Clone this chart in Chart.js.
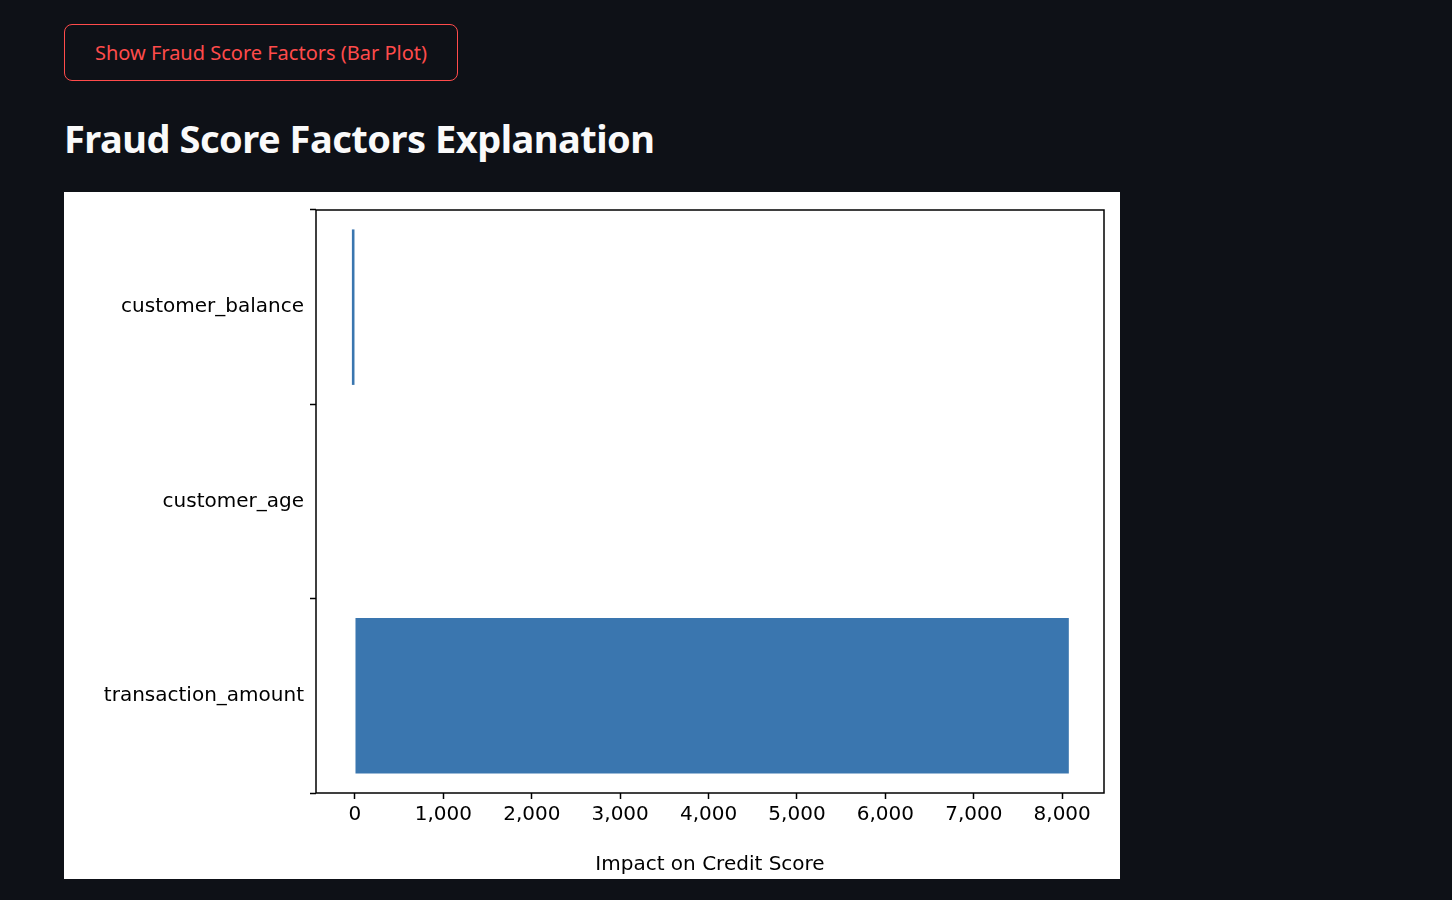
<!DOCTYPE html>
<html>
<head>
<meta charset="utf-8">
<script src="https://cdn.jsdelivr.net/npm/chart.js@4"></script>
<style>
  body { margin: 0; background: #0e1117; font-family: "Noto Sans", sans-serif; }
  #btn { position: absolute; left: 64px; top: 24px; width: 394px; height: 57px; box-sizing: border-box;
         border: 1px solid #ff4b4b; border-radius: 8px; background: transparent; color: #ff4b4b;
         font-family: "Noto Sans", sans-serif; font-size: 20px; }
  h2 { position: absolute; left: 64px; top: 112px; margin: 0; color: #fafafa; font-size: 38px; font-weight: 700; letter-spacing: -0.5px; }
  #box { position: absolute; left: 64px; top: 192px; width: 1056px; height: 687px; background: #fff; }
</style>
</head>
<body>
<button id="btn">Show Fraud Score Factors (Bar Plot)</button>
<h2>Fraud Score Factors Explanation</h2>
<div id="box"><canvas id="chart"></canvas></div>
<script>
const factors = ['customer_balance', 'customer_age', 'transaction_amount'];
const impacts = [-35, 0, 8075];
const xTicks = [0, 1000, 2000, 3000, 4000, 5000, 6000, 7000, 8000];

const frame = {
    id: 'frame',
    afterDraw(chart) {
        const a = chart.chartArea, ctx = chart.ctx;
        ctx.save();
        ctx.strokeStyle = '#000';
        ctx.lineWidth = 1.5;
        ctx.strokeRect(a.left, a.top, a.right - a.left, a.bottom - a.top);
        ctx.restore();
    }
};

const font = { family: 'DejaVu Sans', size: 20 };
new Chart(document.getElementById('chart'), {
    type: 'bar',
    data: {
        labels: factors,
        datasets: [{ data: impacts, backgroundColor: '#3a76af', barPercentage: 0.8, categoryPercentage: 1 }]
    },
    options: {
        indexAxis: 'y',
        responsive: true,
        maintainAspectRatio: false,
        animation: false,
        layout: { padding: { top: 15, right: 16, left: 0, bottom: 0 } },
        plugins: { legend: { display: false }, tooltip: { enabled: false } },
        scales: {
            x: {
                min: -441, max: 8473,
                afterBuildTicks: s => { s.ticks = xTicks.map(v => ({ value: v })); },
                afterFit: s => { s.height = 86; },
                grid: { drawOnChartArea: false, color: '#000', tickLength: 6, tickWidth: 1.5 },
                border: { display: false },
                ticks: { color: '#000', font: font, padding: 4, maxRotation: 0 },
                title: { display: true, text: 'Impact on Credit Score', color: '#000', font: font, padding: 2 }
            },
            y: {
                afterFit: s => { s.width = 252; },
                grid: { drawOnChartArea: false, color: '#000', tickLength: 6, tickWidth: 1.5 },
                border: { display: false },
                ticks: { color: '#000', font: font, padding: 6 }
            }
        }
    },
    plugins: [frame]
});
</script>
</body>
</html>
